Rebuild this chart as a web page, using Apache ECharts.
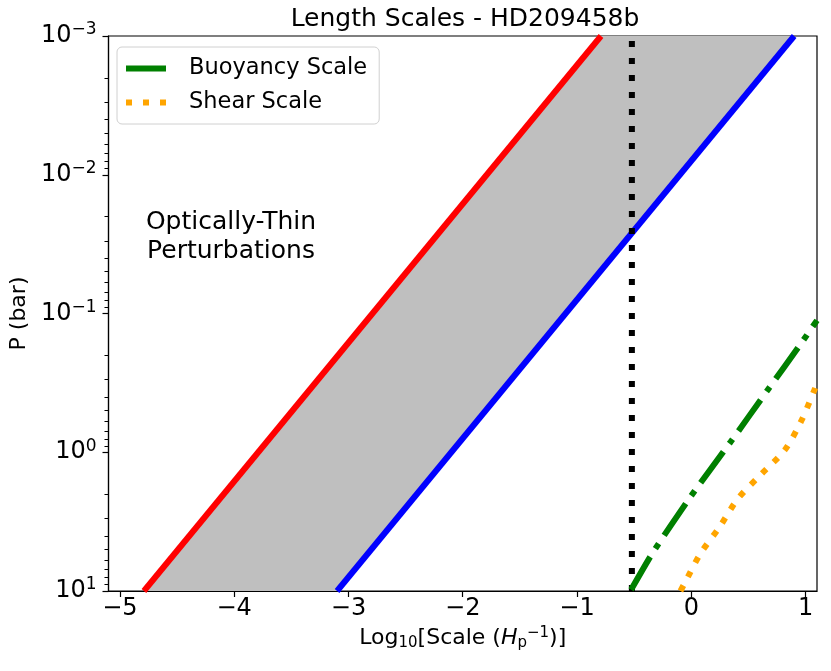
<!DOCTYPE html>
<html>
<head>
<meta charset="utf-8">
<script src="https://cdn.jsdelivr.net/npm/echarts@6/dist/echarts.min.js"></script>
<style>
html,body{margin:0;padding:0;background:#fff;}
#chart{width:831px;height:671px;}
</style>
</head>
<body>
<div id="chart"></div>
<script>
// ---- data ----
const xTicks = [-5, -4, -3, -2, -1, 0, 1];
const yTicks = [0.001, 0.01, 0.1, 1, 10];
const yMinorTicks = [0.002,0.003,0.004,0.005,0.006,0.007,0.008,0.009,
                     0.02,0.03,0.04,0.05,0.06,0.07,0.08,0.09,
                     0.2,0.3,0.4,0.5,0.6,0.7,0.8,0.9,
                     2,3,4,5,6,7,8,9];

// optically-thin boundaries (red = upper, blue = lower)
const redX  = [-4.79, -0.79];
const redP  = [10, 0.001];
const blueX = [-3.10, 0.90];
const blueP = [10, 0.001];

// vertical dotted line
const vlineX = [-0.52, -0.52];
const vlineP = [10, 0.001];

// Buoyancy scale
const buoyX = [-0.527, -0.338, -0.010, 0.345, 0.678, 0.955, 1.10];
const buoyP = [9.8, 5.3, 2.11, 0.84, 0.347, 0.167, 0.112];

// Shear scale
const shearX = [-0.095, -0.062, 0.077, 0.249, 0.408, 0.612, 0.818, 0.963, 1.077, 1.10];
const shearP = [10, 8.9, 5.43, 3.44, 2.16, 1.44, 0.964, 0.593, 0.356, 0.316];

const zip = (xs, ys) => xs.map((x, i) => [x, ys[i]]);

const FONT = 'DejaVu Sans';
const chart = echarts.init(document.getElementById('chart'), null, {renderer: 'canvas'});

const sup = e => '10{sup|' + e + '}';

const option = {
  backgroundColor: '#fff',
  animation: false,
  textStyle: {fontFamily: FONT, color: '#000'},
  title: {
    text: 'Length Scales - HD209458b',
    left: 460, textAlign: 'center', top: 2,
    textStyle: {fontFamily: FONT, fontSize: 25, fontWeight: 'normal', color: '#000'}
  },
  grid: {left: 103, right: 14, top: 36, bottom: 80, show: true, borderColor: '#000', borderWidth: 1.2, backgroundColor: 'transparent'},
  legend: {
    orient: 'vertical', left: 117, top: 47,
    backgroundColor: '#fff', borderColor: '#d0d0d0', borderWidth: 1, borderRadius: 5,
    padding: [10, 12, 10, 9], itemGap: 11, itemWidth: 40, itemHeight: 14,
    textStyle: {fontFamily: FONT, fontSize: 22.5, color: '#000', padding: [0, 0, 0, 18]},
    data: [
      {name: 'Buoyancy Scale', icon: 'path://M0,0 L40,0 L40,6 L0,6 Z', itemStyle: {color: '#008000'}},
      {name: 'Shear Scale', icon: 'path://M0,0 L6,0 L6,6 L0,6 Z M17,0 L23,0 L23,6 L17,6 Z M34,0 L40,0 L40,6 L34,6 Z', itemStyle: {color: '#ffa500'}}
    ]
  },
  xAxis: {
    type: 'value', min: -5.1, max: 1.1,
    axisLine: {show: true, onZero: false, lineStyle: {color: '#000', width: 1.2}},
    axisTick: {show: true, length: 6, customValues: xTicks, lineStyle: {color: '#000', width: 1.2}},
    axisLabel: {customValues: xTicks, fontFamily: FONT, fontSize: 24, color: '#000', margin: 6,
      formatter: v => String(v).replace('-', '\u2212')},
    splitLine: {show: false},
    name: 'Log{sub|10}[Scale ({it|H}{sub|p}{sup|\u22121})]',
    nameLocation: 'middle', nameGap: 35,
    nameTextStyle: {fontFamily: FONT, fontSize: 22, color: '#000',
      rich: {
        sub: {fontFamily: FONT, fontSize: 15, verticalAlign: 'bottom', padding: [10, 0, 0, 0]},
        sup: {fontFamily: FONT, fontSize: 15, verticalAlign: 'top', padding: [0, 0, 10, 0]},
        it: {fontFamily: FONT, fontSize: 22, fontStyle: 'italic'}
      }}
  },
  yAxis: [{
    type: 'log', logBase: 10, min: 0.001, max: 10, inverse: true,
    axisLine: {show: true, onZero: false, lineStyle: {color: '#000', width: 1.2}},
    axisTick: {show: true, length: 6, customValues: yTicks, lineStyle: {color: '#000', width: 1.2}},
    axisLabel: {customValues: yTicks, fontFamily: FONT, fontSize: 24, color: '#000', margin: 12,
      formatter: v => sup(String(Math.round(Math.log10(v))).replace('-', '\u2212')),
      rich: {
        sup: {fontFamily: FONT, fontSize: 17, verticalAlign: 'top', padding: [0, 0, 12, 0], color: '#000'}
      }},
    splitLine: {show: false},
    name: 'P (bar)', nameLocation: 'middle', nameGap: 74, nameRotate: 90,
    nameTextStyle: {fontFamily: FONT, fontSize: 22, color: '#000'}
  }, {
    type: 'log', logBase: 10, min: 0.001, max: 10, inverse: true, position: 'left', offset: 0,
    axisLine: {show: false, onZero: false},
    axisTick: {show: true, length: 4, customValues: yMinorTicks, lineStyle: {color: '#000', width: 1}},
    axisLabel: {show: false},
    splitLine: {show: false}
  }],
  graphic: [{
    type: 'text', x: 231, y: 208,
    style: {text: 'Optically-Thin\nPerturbations', fontFamily: FONT, fontSize: 25, fill: '#000',
      align: 'center', verticalAlign: 'top', lineHeight: 29}
  }],
  series: [
    {
      type: 'custom', name: 'band', silent: true, z: 1,
      data: [0],
      renderItem: (params, api) => {
        const pts = zip(redX, redP).concat(zip(blueX, blueP).reverse()).map(p => api.coord(p));
        return {type: 'polygon', shape: {points: pts}, style: {fill: '#bfbfbf'}};
      }
    },
    {type: 'line', name: 'red', data: zip(redX, redP), symbol: 'none', z: 3,
      lineStyle: {color: '#ff0000', width: 6}},
    {type: 'line', name: 'blue', data: zip(blueX, blueP), symbol: 'none', z: 3,
      lineStyle: {color: '#0000ff', width: 6}},
    {type: 'line', name: 'vline', data: zip(vlineX, vlineP), symbol: 'none', z: 3,
      lineStyle: {color: '#000', width: 6, type: [6, 11], cap: 'butt'}},
    {type: 'line', name: 'Buoyancy Scale', data: zip(buoyX, buoyP), symbol: 'none', z: 4, color: '#008000',
      smooth: 0.2,
      lineStyle: {color: '#008000', width: 6, type: [38, 10, 6, 10], cap: 'butt'}},
    {type: 'line', name: 'Shear Scale', data: zip(shearX, shearP), symbol: 'none', z: 4, color: '#ffa500',
      smooth: 0.3,
      lineStyle: {color: '#ffa500', width: 6, type: [6, 10], cap: 'butt'}}
  ]
};
chart.setOption(option);
</script>
</body>
</html>
